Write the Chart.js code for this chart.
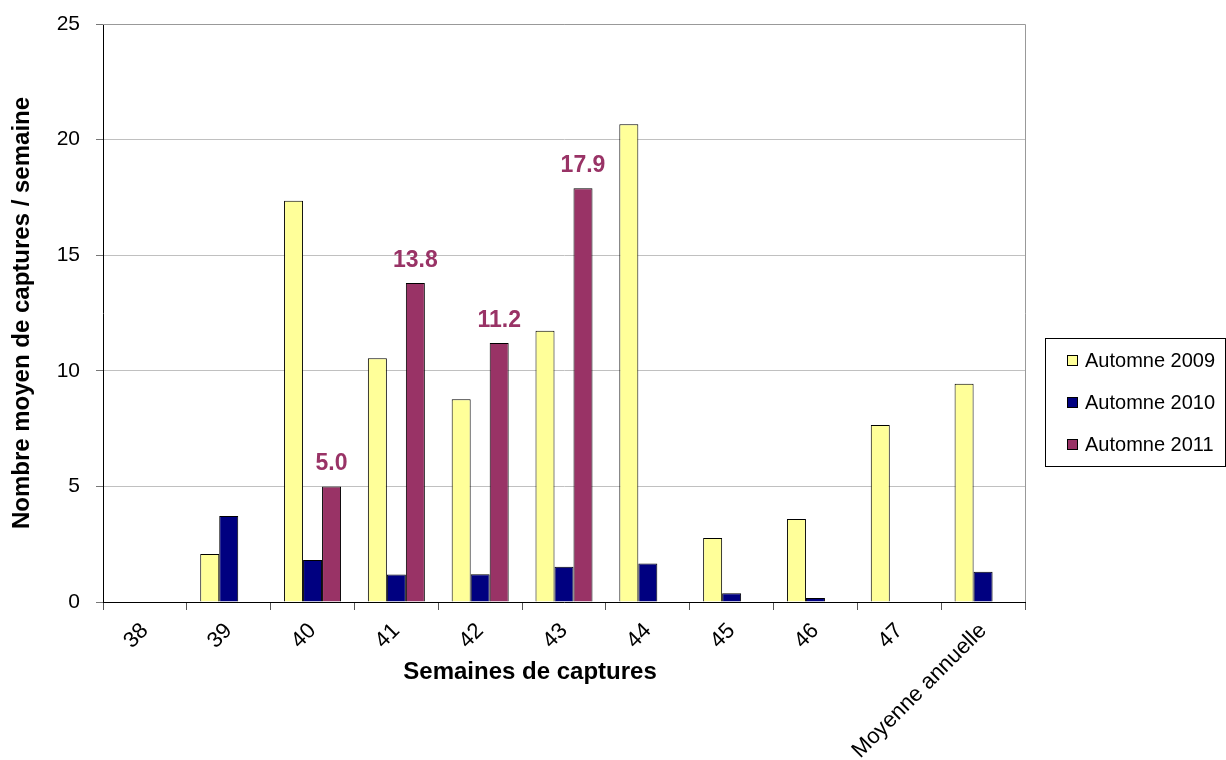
<!DOCTYPE html>
<html>
<head>
<meta charset="utf-8">
<script src="https://cdn.jsdelivr.net/npm/chart.js@4"></script>
<style>
  html, body { margin: 0; padding: 0; background: #fff; }
  #wrap { width: 1226px; height: 760px; }
</style>
</head>
<body>
<div id="wrap"><canvas id="chart" width="1226" height="760"></canvas></div>
<script>
const categories = ['38', '39', '40', '41', '42', '43', '44', '45', '46', '47', 'Moyenne annuelle'];
const seriesNames = ['Automne 2009', 'Automne 2010', 'Automne 2011'];
const automne2009 = [null, 2.08, 17.35, 10.54, 8.77, 11.73, 20.66, 2.77, 3.59, 7.66, 9.44];
const automne2010 = [null, 3.72, 1.82, 1.19, 1.2, 1.53, 1.67, 0.38, 0.17, null, 1.31];
const automne2011 = [null, null, 5.0, 13.8, 11.2, 17.9, null, null, null, null, null];
const yTicks = [0, 5, 10, 15, 20, 25];

const colors = ['#FFFF99', '#000080', '#993366'];
const font = 'Liberation Sans, Arial, sans-serif';

// values written above the 2011 bars
const valueLabels = {
    id: 'valueLabels',
    afterDatasetsDraw(chart) {
        const ctx = chart.ctx;
        const meta = chart.getDatasetMeta(2);
        ctx.save();
        ctx.font = 'bold 23px ' + font;
        ctx.fillStyle = '#993366';
        ctx.textAlign = 'center';
        ctx.textBaseline = 'alphabetic';
        meta.data.forEach((bar, i) => {
            const v = automne2011[i];
            if (v === null) return;
            ctx.fillText(v.toFixed(1), bar.x, bar.y - 16);
        });
        ctx.restore();
    }
};

// frame, x title and boxed legend
const frame = {
    id: 'frame',
    afterDraw(chart) {
        const ctx = chart.ctx;
        const a = chart.chartArea;
        ctx.save();
        ctx.strokeStyle = '#999';
        ctx.lineWidth = 1;
        ctx.beginPath();
        ctx.moveTo(a.left, a.top + 0.5);
        ctx.lineTo(a.right + 0.5, a.top + 0.5);
        ctx.lineTo(a.right + 0.5, a.bottom);
        ctx.stroke();

        ctx.fillStyle = '#000';
        ctx.font = 'bold 24px ' + font;
        ctx.textAlign = 'center';
        ctx.textBaseline = 'middle';
        ctx.fillText('Semaines de captures', 530, a.bottom + 70);

        const lx = a.right + 20, ly = 338, lw = 1225 - lx, lh = 128;
        ctx.strokeStyle = '#000';
        ctx.strokeRect(lx + 0.5, ly + 0.5, lw, lh);
        ctx.font = '20px ' + font;
        ctx.textAlign = 'left';
        seriesNames.forEach((name, i) => {
            const cy = ly + 22 + i * 42;
            ctx.fillStyle = colors[i];
            ctx.fillRect(lx + 22, cy - 5, 10, 10);
            ctx.strokeStyle = '#000';
            ctx.strokeRect(lx + 22.5, cy - 4.5, 10, 10);
            ctx.fillStyle = '#000';
            ctx.fillText(name, lx + 40, cy + 1);
        });
        ctx.restore();
    }
};

const ctx = document.getElementById('chart').getContext('2d');
new Chart(ctx, {
    type: 'bar',
    data: {
        labels: categories,
        datasets: [
            { label: seriesNames[0], data: automne2009, backgroundColor: colors[0], borderColor: '#000', borderWidth: 1 },
            { label: seriesNames[1], data: automne2010, backgroundColor: colors[1], borderColor: '#000', borderWidth: 1 },
            { label: seriesNames[2], data: automne2011, backgroundColor: colors[2], borderColor: '#000', borderWidth: 1 }
        ]
    },
    options: {
        responsive: false,
        animation: false,
        layout: { padding: { top: 24, right: 201, left: 0, bottom: 0 } },
        datasets: { bar: { categoryPercentage: 0.68, barPercentage: 1.0 } },
        plugins: {
            legend: { display: false },
            tooltip: { enabled: false }
        },
        scales: {
            x: {
                grid: { display: true, offset: true, drawOnChartArea: false, tickLength: 8, tickColor: '#555' },
                border: { color: '#000' },
                ticks: {
                    autoSkip: false, minRotation: 45, maxRotation: 45, padding: 8,
                    color: '#000', font: { family: font, size: 22 }
                },
                afterFit(scale) { scale.height = 158; }
            },
            y: {
                min: 0, max: 25,
                afterBuildTicks(scale) { scale.ticks = yTicks.map(v => ({ value: v })); },
                grid: { color: '#c0c0c0', tickColor: '#777', tickLength: 7 },
                border: { color: '#000' },
                ticks: { color: '#000', padding: 16, font: { family: font, size: 21 } },
                title: {
                    display: true, text: 'Nombre moyen de captures / semaine',
                    color: '#000', font: { family: font, size: 24, weight: 'bold' }, padding: { top: 8, bottom: 0 }
                },
                afterFit(scale) {
                    scale.width = 103;
                    scale.paddingTop = 12;
                    scale.paddingBottom = 12;
                }
            }
        }
    },
    plugins: [valueLabels, frame]
});
</script>
</body>
</html>
